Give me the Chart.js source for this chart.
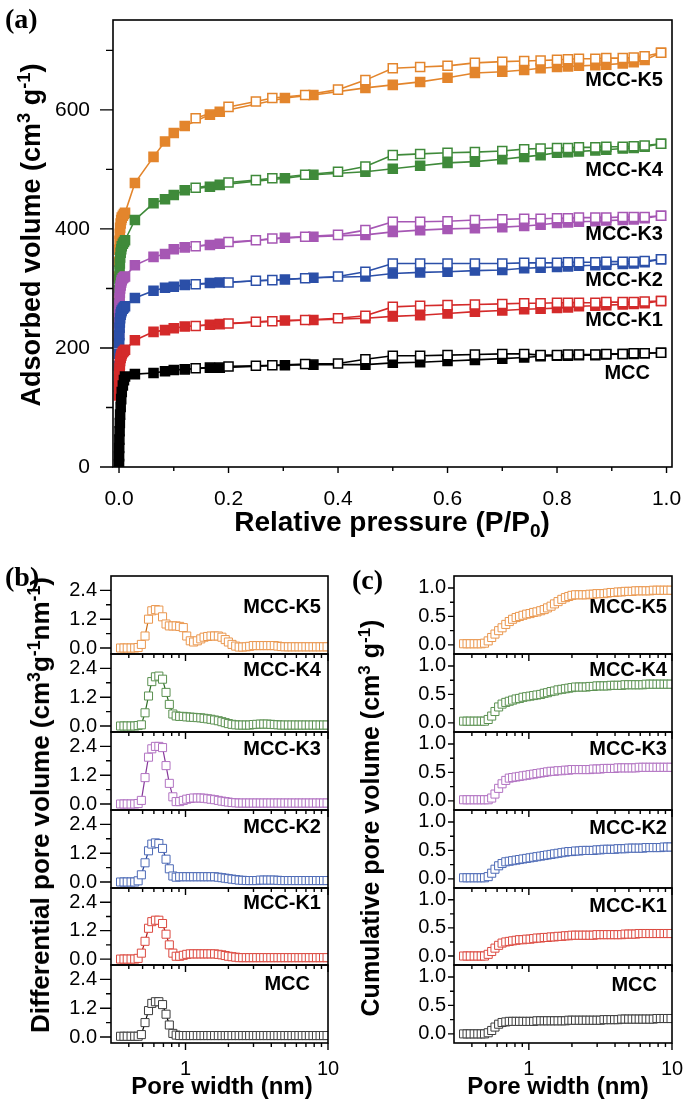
<!DOCTYPE html>
<html>
<head>
<meta charset="utf-8">
<script src="https://cdn.jsdelivr.net/npm/chart.js@4.4.1/dist/chart.umd.min.js"></script>
<style>
    body { margin: 0; background: #fff; }
    #fig { position: relative; width: 685px; height: 1102px; overflow: hidden; background: #fff;
           font-family: "Liberation Sans", Arial, sans-serif; color: #000; }
    #fig canvas { position: absolute; }
    .letter { position: absolute; font: bold 28px "Liberation Serif", "Times New Roman", serif; line-height: 28px; z-index: 3; }
    .tag { position: absolute; font-weight: bold; font-size: 20px; line-height: 20px; text-align: right; white-space: nowrap; z-index: 3; }
    .ytitle, .xtitle { position: absolute; font-weight: bold; white-space: nowrap; line-height: 1; z-index: 3; }
    .ytitle { transform: translate(-50%, -50%) rotate(-90deg); }
    .xtitle { transform: translate(-50%, -50%); }
    sup { font-size: 0.68em; vertical-align: 0.5em; line-height: 0; }
    sub { font-size: 0.68em; vertical-align: -0.3em; line-height: 0; }
</style>
</head>
<body>
<div id="fig">
    <!-- panel letters -->
    <div class="letter" style="left:5px;top:5px">(a)</div>
    <div class="letter" style="left:5px;top:563px">(b)</div>
    <div class="letter" style="left:352px;top:566px">(c)</div>

    <!-- axis titles -->
    <div class="ytitle" style="left:31px;top:235px;font-size:27px">Adsorbed volume (cm<sup>3</sup> g<sup>-1</sup>)</div>
    <div class="xtitle" style="left:392px;top:522px;font-size:28px">Relative pressure (P/P<sub>0</sub>)</div>
    <div class="ytitle" style="left:40px;top:805px;font-size:26px">Differential pore volume (cm<sup>3</sup>g<sup>-1</sup>nm<sup>-1</sup>)</div>
    <div class="ytitle" style="left:370px;top:818px;font-size:25px">Cumulative pore volume (cm<sup>3</sup> g<sup>-1</sup>)</div>
    <div class="xtitle" style="left:222px;top:1086px;font-size:24px">Pore width (nm)</div>
    <div class="xtitle" style="left:558px;top:1086px;font-size:24px">Pore width (nm)</div>

    <!-- sample tags, panel (a) -->
    <div class="tag" style="right:22px;top:69px">MCC-K5</div>
    <div class="tag" style="right:22px;top:159px">MCC-K4</div>
    <div class="tag" style="right:22px;top:223px">MCC-K3</div>
    <div class="tag" style="right:22px;top:269px">MCC-K2</div>
    <div class="tag" style="right:22px;top:309px">MCC-K1</div>
    <div class="tag" style="right:35px;top:362px">MCC</div>

    <!-- sample tags, panel (b) -->
    <div class="tag" style="right:364px;top:596px">MCC-K5</div>
    <div class="tag" style="right:364px;top:659px">MCC-K4</div>
    <div class="tag" style="right:364px;top:738px">MCC-K3</div>
    <div class="tag" style="right:364px;top:816px">MCC-K2</div>
    <div class="tag" style="right:364px;top:892px">MCC-K1</div>
    <div class="tag" style="right:375px;top:973px">MCC</div>

    <!-- sample tags, panel (c) -->
    <div class="tag" style="right:18px;top:596px">MCC-K5</div>
    <div class="tag" style="right:18px;top:659px">MCC-K4</div>
    <div class="tag" style="right:18px;top:738px">MCC-K3</div>
    <div class="tag" style="right:18px;top:817px">MCC-K2</div>
    <div class="tag" style="right:18px;top:895px">MCC-K1</div>
    <div class="tag" style="right:28px;top:974px">MCC</div>
</div>

<script>
// ---- (a) N2 isotherms: relative pressure points ----
const adsP = [0.00002, 0.0001, 0.0003, 0.0006, 0.001, 0.0015, 0.002, 0.003, 0.004, 0.005, 0.007, 0.009, 0.011,
              0.029, 0.063, 0.084, 0.1, 0.12, 0.166, 0.184, 0.303, 0.355,
              0.45, 0.5, 0.55, 0.6, 0.65, 0.7, 0.74, 0.77, 0.8, 0.82, 0.84, 0.87, 0.89, 0.92, 0.94, 0.96, 0.99];
const desP = [0.99, 0.96, 0.94, 0.92, 0.89, 0.87, 0.84, 0.82, 0.8, 0.77, 0.74, 0.7, 0.65, 0.6, 0.55, 0.5,
              0.45, 0.4, 0.34, 0.28, 0.25, 0.2, 0.14];

// adsorption branch (filled squares)
const adsMCC = [5, 18, 32, 46, 60, 74, 88, 101, 114, 126, 137, 146, 152,
                156, 158, 161, 163, 164, 167, 167, 171, 172,
                172, 175, 176, 178, 180, 182, 184, 186, 187, 187, 188, 188, 189, 190, 190, 191, 192];
const adsK1 = [120, 135, 148, 158, 166, 172, 178, 183, 187, 190, 193, 195, 197,
               213, 227, 230, 233, 236, 239, 240, 246, 247,
               250, 253, 255, 258, 261, 263, 265, 266, 267, 268, 270, 271, 272, 273, 274, 275, 279];
const adsK2 = [170, 190, 208, 222, 234, 243, 250, 256, 260, 263, 266, 268, 270,
               284, 296, 301, 303, 306, 309, 310, 315, 318,
               320, 325, 327, 328, 330, 331, 334, 335, 336, 337, 338, 339, 340, 341, 342, 344, 349];
const adsK3 = [220, 240, 258, 272, 284, 293, 300, 305, 310, 314, 317, 319, 320,
               339, 353, 358, 366, 369, 373, 375, 385, 387,
               390, 395, 398, 400, 401, 403, 405, 407, 410, 411, 412, 413, 414, 415, 416, 418, 422];
const adsK4 = [250, 275, 297, 315, 330, 342, 352, 360, 366, 371, 375, 378, 381,
               415, 443, 450, 457, 465, 471, 474, 485, 491,
               496, 501, 506, 511, 513, 517, 521, 524, 528, 529, 530, 532, 533, 535, 536, 538, 543];
const adsK5 = [290, 320, 345, 365, 380, 392, 402, 409, 415, 419, 422, 425, 427,
               477, 521, 547, 561, 573, 592, 597, 620, 625,
               637, 642, 647, 654, 662, 664, 667, 670, 672, 673, 674, 675, 676, 678, 680, 684, 696];

// desorption branch (open squares)
const desMCC = [192, 191, 191, 190, 190, 189, 189, 189, 188, 188, 190, 190, 189, 188, 187, 187, 181, 174, 173, 171, 170, 169, 166];
const desK1 = [279, 278, 277, 277, 277, 276, 276, 276, 276, 275, 275, 274, 273, 272, 271, 269, 254, 250, 247, 245, 244, 241, 237];
const desK2 = [349, 346, 345, 345, 345, 344, 344, 344, 343, 343, 343, 342, 342, 342, 342, 342, 328, 320, 317, 314, 313, 310, 307];
const desK3 = [422, 420, 420, 420, 419, 419, 419, 418, 418, 417, 417, 416, 415, 413, 412, 412, 398, 390, 387, 384, 381, 378, 371];
const desK4 = [543, 540, 539, 538, 538, 537, 537, 536, 536, 535, 534, 531, 529, 528, 526, 524, 505, 496, 491, 485, 482, 478, 469];
const desK5 = [696, 690, 688, 687, 687, 686, 686, 685, 684, 683, 682, 681, 679, 674, 672, 670, 650, 634, 625, 620, 614, 605, 586];

// ---- (b)/(c) pore size distribution ----
const poreWidth = [0.35, 0.37, 0.39, 0.415, 0.44, 0.465, 0.49, 0.52, 0.55, 0.58,
                   0.615, 0.65, 0.69, 0.73, 0.77, 0.815, 0.86, 0.91, 0.965, 1.02,
                   1.08, 1.14, 1.21, 1.28, 1.35, 1.43, 1.51, 1.6, 1.7, 1.8,
                   1.9, 2.0, 2.12, 2.25, 2.38, 2.52, 2.67, 2.82, 2.99, 3.16,
                   3.35, 3.54, 3.75, 3.97, 4.2, 4.45, 4.7, 4.98, 5.27, 5.58,
                   5.9, 6.25, 6.6, 7.0, 7.4, 7.85, 8.3, 8.8, 9.3, 9.85];

// differential pore volume
const dvK5 = [0, 0, 0, 0, 0, 0.02, 0.15, 0.5, 1.2, 1.55,
              1.6, 1.58, 1.3, 1.0, 0.92, 0.92, 0.92, 0.9, 0.85, 0.5,
              0.3, 0.25, 0.3, 0.38, 0.45, 0.48, 0.5, 0.5, 0.5, 0.45,
              0.35, 0.25, 0.15, 0.08, 0.04, 0.04, 0.05, 0.07, 0.1, 0.1,
              0.1, 0.1, 0.1, 0.1, 0.1, 0.08, 0.06, 0.05, 0.05, 0.05,
              0.05, 0.05, 0.05, 0.05, 0.05, 0.05, 0.05, 0.05, 0.05, 0.05];
const dvK4 = [0, 0, 0, 0, 0, 0.02, 0.05, 0.55, 1.25, 1.85,
              2.05, 2.08, 1.95, 1.4, 0.9, 0.5, 0.42, 0.4, 0.4, 0.38,
              0.37, 0.36, 0.35, 0.34, 0.32, 0.3, 0.28, 0.25, 0.22, 0.18,
              0.14, 0.1, 0.07, 0.05, 0.04, 0.04, 0.04, 0.04, 0.06, 0.07,
              0.08, 0.08, 0.08, 0.07, 0.06, 0.05, 0.04, 0.04, 0.04, 0.04,
              0.04, 0.04, 0.04, 0.04, 0.04, 0.04, 0.04, 0.04, 0.04, 0.04];
const dvK3 = [0, 0, 0, 0, 0, 0.02, 0.15, 1.1, 1.95, 2.3,
              2.4, 2.4, 2.35, 1.6, 0.86, 0.3, 0.1, 0.1, 0.15, 0.2,
              0.23, 0.25, 0.25, 0.25, 0.24, 0.22, 0.2, 0.18, 0.15, 0.12,
              0.1, 0.08, 0.06, 0.05, 0.04, 0.04, 0.04, 0.04, 0.04, 0.04,
              0.04, 0.04, 0.04, 0.04, 0.04, 0.04, 0.04, 0.04, 0.04, 0.04,
              0.04, 0.04, 0.04, 0.04, 0.04, 0.04, 0.04, 0.04, 0.04, 0.04];
const dvK2 = [0, 0, 0, 0, 0, 0.05, 0.3, 0.8, 1.3, 1.58,
              1.63, 1.6, 1.4, 0.95, 0.55, 0.25, 0.2, 0.22, 0.22, 0.22,
              0.22, 0.22, 0.22, 0.22, 0.22, 0.22, 0.22, 0.22, 0.2, 0.18,
              0.16, 0.14, 0.12, 0.1, 0.08, 0.07, 0.06, 0.06, 0.06, 0.06,
              0.08, 0.08, 0.08, 0.08, 0.08, 0.07, 0.06, 0.06, 0.06, 0.06,
              0.06, 0.06, 0.06, 0.06, 0.06, 0.06, 0.06, 0.06, 0.06, 0.06];
const dvK1 = [0, 0, 0, 0, 0, 0.03, 0.25, 0.75, 1.3, 1.58,
              1.64, 1.64, 1.5, 1.05, 0.6, 0.25, 0.12, 0.12, 0.16, 0.2,
              0.22, 0.22, 0.22, 0.22, 0.22, 0.22, 0.22, 0.22, 0.2, 0.18,
              0.15, 0.12, 0.1, 0.08, 0.06, 0.06, 0.06, 0.06, 0.06, 0.06,
              0.06, 0.06, 0.06, 0.06, 0.06, 0.06, 0.06, 0.06, 0.06, 0.06,
              0.06, 0.06, 0.06, 0.06, 0.06, 0.06, 0.06, 0.06, 0.06, 0.06];
const dvMCC = [0.03, 0.03, 0.03, 0.03, 0.03, 0.03, 0.1, 0.6, 1.1, 1.4,
               1.47, 1.47, 1.35, 0.95, 0.5, 0.15, 0.08, 0.06, 0.06, 0.06,
               0.06, 0.06, 0.06, 0.06, 0.06, 0.06, 0.06, 0.06, 0.06, 0.06,
               0.06, 0.06, 0.06, 0.06, 0.06, 0.06, 0.06, 0.06, 0.06, 0.06,
               0.06, 0.06, 0.06, 0.06, 0.06, 0.06, 0.06, 0.06, 0.06, 0.06,
               0.06, 0.06, 0.06, 0.06, 0.06, 0.06, 0.06, 0.06, 0.06, 0.06];

// cumulative pore volume
const cvK5 = [0.02, 0.02, 0.02, 0.02, 0.02, 0.02, 0.03, 0.07, 0.13, 0.19,
              0.25, 0.3, 0.36, 0.41, 0.45, 0.48, 0.5, 0.52, 0.54, 0.55,
              0.57, 0.58, 0.6, 0.62, 0.65, 0.68, 0.72, 0.76, 0.8, 0.83,
              0.85, 0.87, 0.88, 0.88, 0.88, 0.88, 0.89, 0.89, 0.9, 0.9,
              0.9, 0.91, 0.92, 0.92, 0.93, 0.93, 0.94, 0.94, 0.94, 0.95,
              0.95, 0.95, 0.95, 0.95, 0.96, 0.96, 0.96, 0.96, 0.96, 0.96];
const cvK4 = [0.03, 0.03, 0.03, 0.03, 0.03, 0.03, 0.03, 0.06, 0.12, 0.2,
              0.28, 0.33, 0.36, 0.38, 0.4, 0.42, 0.43, 0.45, 0.46, 0.47,
              0.48, 0.49, 0.5, 0.52, 0.53, 0.55, 0.56, 0.58, 0.59, 0.6,
              0.61, 0.62, 0.63, 0.63, 0.63, 0.63, 0.64, 0.64, 0.65, 0.65,
              0.65, 0.65, 0.66, 0.66, 0.66, 0.66, 0.67, 0.67, 0.67, 0.67,
              0.67, 0.67, 0.68, 0.68, 0.68, 0.68, 0.68, 0.68, 0.68, 0.68];
const cvK3 = [0.02, 0.02, 0.02, 0.02, 0.02, 0.02, 0.02, 0.02, 0.05, 0.12,
              0.22, 0.3, 0.36, 0.4, 0.41, 0.42, 0.43, 0.44, 0.45, 0.46,
              0.47, 0.48, 0.49, 0.5, 0.51, 0.52, 0.52, 0.53, 0.53, 0.54,
              0.54, 0.55, 0.55, 0.55, 0.55, 0.55, 0.55, 0.56, 0.56, 0.56,
              0.57, 0.57, 0.57, 0.57, 0.58, 0.58, 0.58, 0.58, 0.58, 0.58,
              0.59, 0.59, 0.59, 0.59, 0.59, 0.59, 0.59, 0.59, 0.59, 0.59];
const cvK2 = [0.02, 0.02, 0.02, 0.02, 0.02, 0.02, 0.02, 0.04, 0.1, 0.17,
              0.23, 0.27, 0.3, 0.31, 0.32, 0.33, 0.34, 0.35, 0.36, 0.37,
              0.38, 0.39, 0.4, 0.41, 0.42, 0.43, 0.44, 0.45, 0.46, 0.47,
              0.48, 0.48, 0.49, 0.49, 0.5, 0.5, 0.5, 0.5, 0.51, 0.51,
              0.52, 0.52, 0.52, 0.52, 0.53, 0.53, 0.53, 0.54, 0.54, 0.54,
              0.54, 0.54, 0.55, 0.55, 0.55, 0.55, 0.55, 0.56, 0.56, 0.56];
const cvK1 = [0, 0, 0, 0, 0, 0, 0, 0.03, 0.08, 0.14,
              0.19, 0.23, 0.25, 0.26, 0.27, 0.28, 0.29, 0.29, 0.3, 0.3,
              0.31, 0.32, 0.32, 0.33, 0.33, 0.34, 0.34, 0.35, 0.35, 0.36,
              0.36, 0.37, 0.37, 0.37, 0.37, 0.37, 0.37, 0.37, 0.38, 0.38,
              0.38, 0.38, 0.38, 0.38, 0.38, 0.38, 0.39, 0.39, 0.39, 0.39,
              0.4, 0.4, 0.4, 0.4, 0.4, 0.4, 0.4, 0.4, 0.4, 0.4];
const cvMCC = [0, 0, 0, 0, 0, 0, 0, 0.02, 0.06, 0.12,
               0.17, 0.2, 0.21, 0.22, 0.22, 0.22, 0.22, 0.22, 0.22, 0.22,
               0.22, 0.23, 0.23, 0.23, 0.23, 0.23, 0.23, 0.23, 0.23, 0.23,
               0.24, 0.24, 0.24, 0.24, 0.24, 0.24, 0.24, 0.24, 0.24, 0.24,
               0.25, 0.25, 0.25, 0.25, 0.25, 0.26, 0.26, 0.26, 0.26, 0.26,
               0.26, 0.26, 0.26, 0.26, 0.26, 0.27, 0.27, 0.27, 0.27, 0.27];

// ---- tick positions ----
const isoXTicks = [0, 0.2, 0.4, 0.6, 0.8, 1.0];
const isoXMinor = [0.1, 0.3, 0.5, 0.7, 0.9];
const isoYTicks = [0, 200, 400, 600];
const isoYMinor = [100, 300, 500, 700];
const poreXTicks = [1, 10];
const poreXMinor = [0.4, 0.5, 0.6, 0.7, 0.8, 0.9, 2, 3, 4, 5, 6, 7, 8, 9];
const dvYTicks = [0, 1.2, 2.4];
const dvYMinor = [0.6, 1.8];
const cvYTicks = [0, 0.5, 1.0];
const cvYMinor = [0.25, 0.75];

// colours: isotherm, PSD marker, PSD line
const isoColors = { MCC: '#000000', K1: '#d42a2a', K2: '#2b4fa8', K3: '#a657b4', K4: '#3f8a3a', K5: '#e3852c' };
const psdColors = { MCC: '#3c3c3c', K1: '#dc4a40', K2: '#4d6ab6', K3: '#b273c2', K4: '#5b9151', K5: '#ea974e' };
const psdLines  = { MCC: '#000000', K1: '#b01818', K2: '#1c3b95', K3: '#86379a', K4: '#2a6a22', K5: '#c96a12' };

const FONT = '"Liberation Sans", Arial, sans-serif';
const fig = document.getElementById('fig');

function pts(xs, ys) {
    return xs.map((x, i) => ({ x: x, y: ys[i] }));
}

function addCanvas(left, top, w, h) {
    const c = document.createElement('canvas');
    c.width = w;
    c.height = h;
    c.style.left = left + 'px';
    c.style.top = top + 'px';
    c.style.width = w + 'px';
    c.style.height = h + 'px';
    fig.appendChild(c);
    return c;
}

// plot frame + outward major/minor ticks, placed with the chart's own scales
function frame(m) {
    return {
        id: 'frame',
        afterDatasetsDraw(chart) {
            const a = chart.chartArea;
            const ctx = chart.ctx;
            const sx = chart.scales.x, sy = chart.scales.y;
            ctx.save();
            ctx.strokeStyle = '#000';
            ctx.lineWidth = 1.6;
            ctx.strokeRect(a.left, a.top, a.right - a.left, a.bottom - a.top);
            ctx.lineWidth = 1.4;
            ctx.beginPath();
            const xt = (vals, len) => vals.forEach(v => {
                const p = sx.getPixelForValue(v);
                ctx.moveTo(p, a.bottom);
                ctx.lineTo(p, a.bottom + len);
            });
            const yt = (vals, len) => vals.forEach(v => {
                const p = sy.getPixelForValue(v);
                ctx.moveTo(a.left, p);
                ctx.lineTo(a.left - len, p);
            });
            xt(m.xMajor, m.xLen);
            xt(m.xMinor, m.xMinLen);
            yt(m.yMajor, m.yLen);
            yt(m.yMinor, m.yMinLen);
            ctx.stroke();
            ctx.restore();
        }
    };
}

function axis(o) {
    return {
        type: o.type || 'linear',
        min: o.min,
        max: o.max,
        afterBuildTicks: s => { s.ticks = o.ticks.map(v => ({ value: v })); },
        afterFit: s => {
            if (o.width !== undefined) s.width = o.width;
            if (o.height !== undefined) s.height = o.height;
            // keep label overhang from shrinking the plot area
            s.paddingTop = 0;
            s.paddingBottom = 0;
            s.paddingLeft = 0;
            s.paddingRight = 0;
        },
        grid: { display: false, drawTicks: false },
        border: { display: false },
        ticks: {
            display: o.show !== false,
            autoSkip: false,
            maxRotation: 0,
            padding: o.pad,
            color: '#000',
            font: { family: FONT, size: o.size },
            callback: o.fmt
        }
    };
}

function plot(canvas, datasets, o) {
    return new Chart(canvas, {
        type: 'scatter',
        data: { datasets: datasets },
        options: {
            responsive: false,
            animation: false,
            events: [],
            layout: { padding: o.pad },
            plugins: { legend: { display: false }, tooltip: { enabled: false } },
            scales: { x: axis(o.x), y: axis(o.y) }
        },
        plugins: [frame(o.marks)]
    });
}

// ---------------- (a) isotherms ----------------
const isoSamples = [
    ['MCC', adsMCC, desMCC],
    ['K1', adsK1, desK1],
    ['K2', adsK2, desK2],
    ['K3', adsK3, desK3],
    ['K4', adsK4, desK4],
    ['K5', adsK5, desK5]
];
const isoSets = [];
isoSamples.forEach(([key, ads, des]) => {
    const c = isoColors[key];
    const base = { showLine: true, borderColor: c, borderWidth: 1.6, pointStyle: 'rect',
                   pointRadius: 6.4, pointBorderWidth: 1.5, pointBorderColor: c };
    isoSets.push(Object.assign({}, base, { data: pts(desP, des), pointBackgroundColor: '#ffffff' }));
    isoSets.push(Object.assign({}, base, { data: pts(adsP, ads), pointBackgroundColor: c }));
});

plot(addCanvas(0, 0, 685, 545), isoSets, {
    pad: { top: 20, right: 13, left: 0, bottom: 0 },
    x: { min: -0.011, max: 1.01, ticks: isoXTicks, height: 78, pad: 20, size: 21, fmt: v => v.toFixed(1) },
    y: { min: 0, max: 751, ticks: isoYTicks, width: 113, pad: 23, size: 21, fmt: v => String(v) },
    marks: { xMajor: isoXTicks, xMinor: isoXMinor, xLen: 6, xMinLen: 4,
             yMajor: isoYTicks, yMinor: isoYMinor, yLen: 13, yMinLen: 7 }
});

// ---------------- (b) and (c) stacked PSD panels ----------------
const psdOrder = ['K5', 'K4', 'K3', 'K2', 'K1', 'MCC'];
const dvSeries = { K5: dvK5, K4: dvK4, K3: dvK3, K2: dvK2, K1: dvK1, MCC: dvMCC };
const cvSeries = { K5: cvK5, K4: cvK4, K3: cvK3, K2: cvK2, K1: cvK1, MCC: cvMCC };
const panelEdges = [576, 654, 732, 810, 888, 965, 1043];

function psdSet(key, values) {
    return {
        data: pts(poreWidth, values),
        showLine: true,
        borderColor: psdLines[key],
        borderWidth: 1.2,
        pointStyle: 'rect',
        pointRadius: 5.7,
        pointBorderWidth: 1,
        pointBorderColor: psdColors[key],
        pointBackgroundColor: '#ffffff'
    };
}

psdOrder.forEach((key, i) => {
    const top = panelEdges[i];
    const h = panelEdges[i + 1] - top;
    const last = i === psdOrder.length - 1;
    const extra = last ? 44 : 14;

    // (b) differential
    plot(addCanvas(0, top - 12, 340, h + 12 + extra), [psdSet(key, dvSeries[key])], {
        pad: { top: 12, right: 12, left: 0, bottom: 0 },
        x: { type: 'logarithmic', min: 0.31, max: 10, ticks: poreXTicks, height: extra, pad: 14,
             size: 20, show: last, fmt: v => String(v) },
        y: { min: -0.25, max: 3.0, ticks: dvYTicks, width: 111, pad: 14, size: 20, fmt: v => v.toFixed(1) },
        marks: { xMajor: poreXTicks, xMinor: poreXMinor, xLen: 7, xMinLen: 4,
                 yMajor: dvYTicks, yMinor: dvYMinor, yLen: 11, yMinLen: 5 }
    });

    // (c) cumulative
    plot(addCanvas(340, top - 12, 345, h + 12 + extra), [psdSet(key, cvSeries[key])], {
        pad: { top: 12, right: 13, left: 0, bottom: 0 },
        x: { type: 'logarithmic', min: 0.306, max: 10, ticks: poreXTicks, height: extra, pad: 14,
             size: 20, show: last, fmt: v => String(v) },
        y: { min: -0.16, max: 1.21, ticks: cvYTicks, width: 114, pad: 8, size: 20, fmt: v => v.toFixed(1) },
        marks: { xMajor: poreXTicks, xMinor: poreXMinor, xLen: 7, xMinLen: 4,
                 yMajor: cvYTicks, yMinor: cvYMinor, yLen: 6, yMinLen: 4 }
    });
});
</script>
</body>
</html>
